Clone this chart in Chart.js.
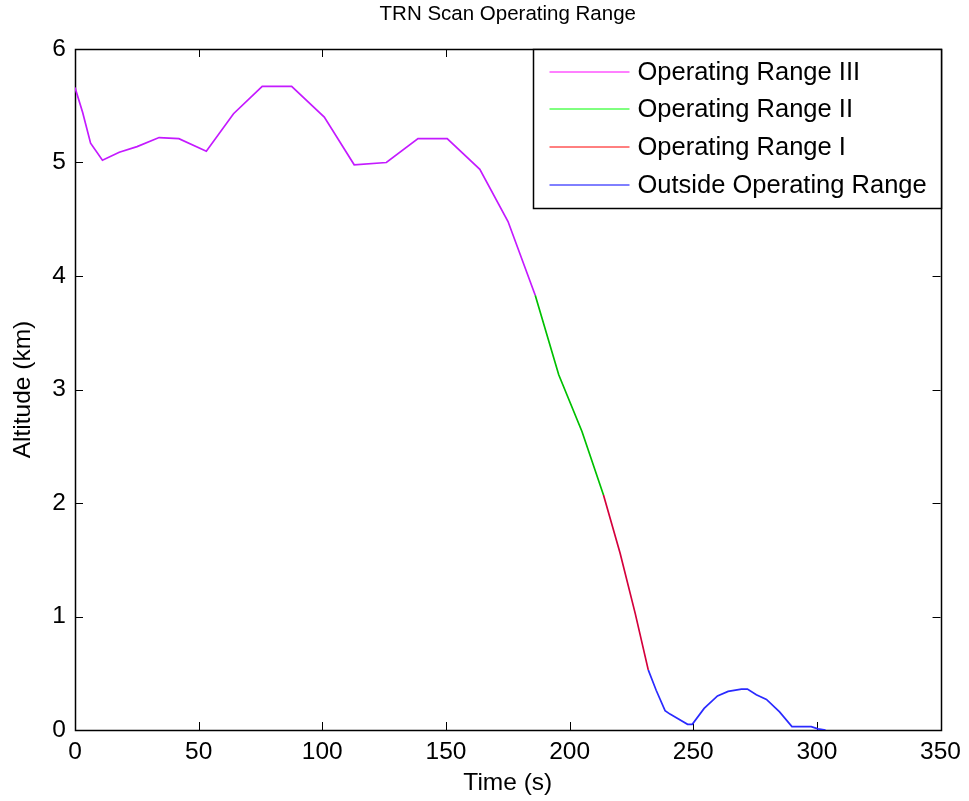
<!DOCTYPE html>
<html lang="en">
<head>
    <meta charset="UTF-8">
    <title>TRN Scan Operating Range</title>
    <script src="https://cdn.jsdelivr.net/npm/chart.js"></script>
    <style>
        body { margin: 0; background: #fff; }
        canvas { display: block; }
    </style>
</head>
<body>
    <canvas id="rangeChart" width="969" height="801"></canvas>

    <script>
        // time (s) / altitude (km) for each operating range segment
        const timeRange3 = [0, 3.1, 6.3, 11.1, 17.9, 25.1, 34.0, 42.0, 53.1, 64.1, 75.7, 87.6, 100.8, 112.9, 125.9, 138.7, 150.5, 163.7, 175.1, 186.1];
        const altRange3 = [5.66, 5.44, 5.17, 5.02, 5.09, 5.14, 5.22, 5.21, 5.10, 5.43, 5.67, 5.67, 5.40, 4.98, 5.00, 5.21, 5.21, 4.94, 4.48, 3.83];

        const timeRange2 = [186.1, 195.6, 205.0, 213.7];
        const altRange2 = [3.83, 3.13, 2.63, 2.07];

        const timeRange1 = [213.7, 220.4, 226.5, 231.8];
        const altRange1 = [2.07, 1.56, 1.03, 0.53];

        const timeOutside = [231.8, 235.0, 238.6, 240.6, 243.0, 247.7, 249.6, 254.4, 259.8, 264.1, 269.5, 271.9, 275.5, 279.6, 284.9, 289.9, 297.7, 300.4, 303.5];
        const altOutside = [0.53, 0.35, 0.17, 0.14, 0.11, 0.05, 0.05, 0.19, 0.30, 0.34, 0.36, 0.36, 0.31, 0.27, 0.16, 0.03, 0.03, 0.01, 0.00];

        const seriesLabels = ['Operating Range III', 'Operating Range II', 'Operating Range I', 'Outside Operating Range'];

        const FONT = '"Liberation Sans", Arial, sans-serif';

        function points(ts, ys) {
            return ts.map((t, i) => ({ x: t, y: ys[i] }));
        }

        function makeSet(label, data, color, legendColor) {
            return {
                label: label,
                data: data,
                borderColor: color,
                legendColor: legendColor,
                borderWidth: 1.7,
                pointRadius: 0,
                fill: false,
                tension: 0
            };
        }

        // matlab style box with inward ticks on all four sides
        const framePlugin = {
            id: 'frame',
            beforeDatasetsDraw(chart) {
                const ctx = chart.ctx;
                const a = chart.chartArea;
                const xs = chart.scales.x;
                const ys = chart.scales.y;
                const len = 8;
                ctx.save();
                ctx.strokeStyle = '#000';
                ctx.lineWidth = 1;
                ctx.beginPath();
                xs.ticks.forEach(t => {
                    const px = Math.round(xs.getPixelForValue(t.value)) + 0.5;
                    ctx.moveTo(px, a.bottom); ctx.lineTo(px, a.bottom - len);
                    ctx.moveTo(px, a.top); ctx.lineTo(px, a.top + len);
                });
                ys.ticks.forEach(t => {
                    const py = Math.round(ys.getPixelForValue(t.value)) + 0.5;
                    ctx.moveTo(a.left, py); ctx.lineTo(a.left + len, py);
                    ctx.moveTo(a.right, py); ctx.lineTo(a.right - len, py);
                });
                ctx.stroke();
                ctx.lineWidth = 1.5;
                ctx.strokeRect(Math.round(a.left) + 0.5, Math.round(a.top) + 0.5,
                    Math.round(a.right - a.left), Math.round(a.bottom - a.top));
                ctx.restore();
            }
        };

        // legend box in the upper right corner of the axes
        const boxLegendPlugin = {
            id: 'boxLegend',
            afterDatasetsDraw(chart) {
                const ctx = chart.ctx;
                const a = chart.chartArea;
                const w = 408, h = 159;
                const left = Math.round(a.right - w) + 0.5;
                const top = Math.round(a.top) + 0.5;
                ctx.save();
                ctx.fillStyle = '#fff';
                ctx.fillRect(left, top, w, h);
                ctx.strokeStyle = '#000';
                ctx.lineWidth = 1.5;
                ctx.strokeRect(left, top, w, h);
                ctx.font = '25.5px ' + FONT;
                ctx.textBaseline = 'middle';
                ctx.textAlign = 'left';
                chart.data.datasets.forEach((ds, i) => {
                    const y = Math.round(top + 22 + i * 37.8);
                    ctx.strokeStyle = ds.legendColor;
                    ctx.lineWidth = 1;
                    ctx.beginPath();
                    ctx.moveTo(left + 16, y);
                    ctx.lineTo(left + 96, y);
                    ctx.stroke();
                    ctx.fillStyle = '#000';
                    ctx.fillText(ds.label, left + 104, y + 1);
                });
                ctx.restore();
            }
        };

        const ctx = document.getElementById('rangeChart').getContext('2d');
        new Chart(ctx, {
            type: 'line',
            data: {
                datasets: [
                    makeSet(seriesLabels[0], points(timeRange3, altRange3), '#c41aff', '#ff00ff'),
                    makeSet(seriesLabels[1], points(timeRange2, altRange2), '#00c000', '#00ff00'),
                    makeSet(seriesLabels[2], points(timeRange1, altRange1), '#d4003c', '#ff0000'),
                    makeSet(seriesLabels[3], points(timeOutside, altOutside), '#2a2aff', '#0000ff')
                ]
            },
            options: {
                responsive: false,
                animation: false,
                layout: { padding: { left: 0, right: 25, top: 0, bottom: 0 } },
                plugins: {
                    legend: { display: false },
                    tooltip: { enabled: false },
                    title: {
                        display: true,
                        text: 'TRN Scan Operating Range',
                        fullSize: false,
                        color: '#000',
                        font: { family: FONT, size: 20.5, weight: 'normal', lineHeight: 1.2 },
                        padding: { top: 2, bottom: 22.4 }
                    }
                },
                scales: {
                    x: {
                        type: 'linear',
                        min: 0,
                        max: 350,
                        afterFit: s => { s.height = 71; },
                        grid: { display: false, drawTicks: false },
                        border: { display: false },
                        ticks: {
                            stepSize: 50,
                            padding: 8,
                            maxRotation: 0,
                            color: '#000',
                            font: { family: FONT, size: 24.5 }
                        },
                        title: {
                            display: true,
                            text: 'Time (s)',
                            color: '#000',
                            font: { family: FONT, size: 24.5, lineHeight: 1.2 },
                            padding: { top: 0, bottom: 3 }
                        }
                    },
                    y: {
                        min: 0,
                        max: 6,
                        afterFit: s => { s.width = 75; },
                        grid: { display: false, drawTicks: false },
                        border: { display: false },
                        ticks: {
                            stepSize: 1,
                            padding: 9,
                            color: '#000',
                            font: { family: FONT, size: 24.5 }
                        },
                        title: {
                            display: true,
                            text: 'Altitude (km)',
                            color: '#000',
                            font: { family: FONT, size: 24.5, lineHeight: 1.2 },
                            padding: { top: 9, bottom: 0 }
                        }
                    }
                }
            },
            plugins: [framePlugin, boxLegendPlugin]
        });
    </script>
</body>
</html>
